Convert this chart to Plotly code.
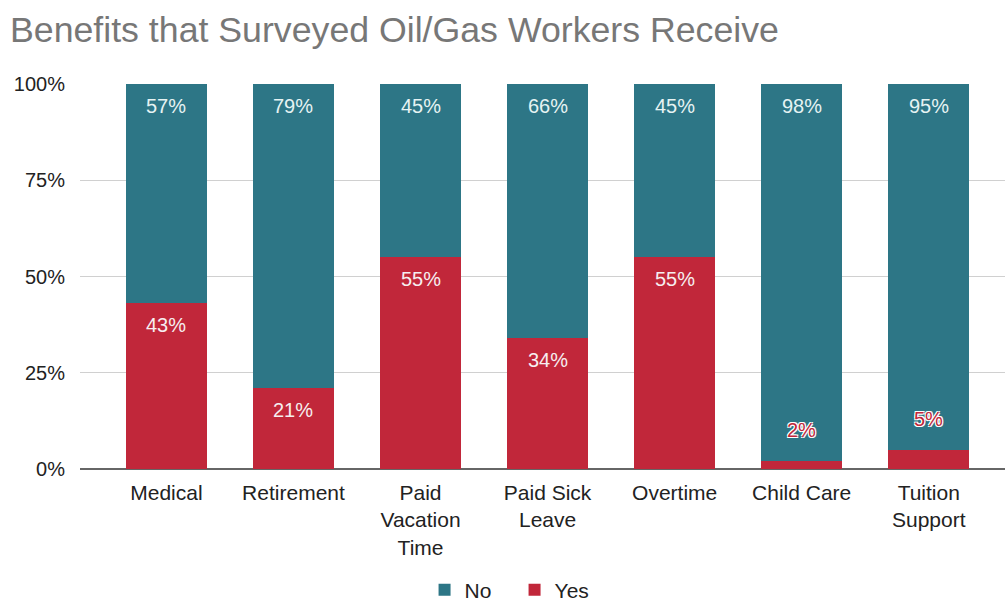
import plotly.graph_objects as go

categories = ["Medical", "Retirement", "Paid<br>Vacation<br>Time", "Paid Sick<br>Leave",
              "Overtime", "Child Care", "Tuition<br>Support"]
yes_vals = [43, 21, 55, 34, 55, 2, 5]
no_vals = [57, 79, 45, 66, 45, 98, 95]
small_threshold = 10

TEAL = "#2d7686"
RED = "#c1273a"
FONT = "Liberation Sans, Arial, sans-serif"

x_idx = list(range(len(categories)))

fig = go.Figure()
fig.add_trace(go.Bar(
    x=x_idx, y=yes_vals, name="Yes", marker=dict(color=RED, line=dict(width=0)),
    width=0.64, hoverinfo="y+name",
))
fig.add_trace(go.Bar(
    x=x_idx, y=no_vals, name="No", marker=dict(color=TEAL, line=dict(width=0)),
    width=0.64, hoverinfo="y+name",
))

outline = "1px 1px 0 white, -1px -1px 0 white, 1px -1px 0 white, -1px 1px 0 white"
for i, (y, n) in enumerate(zip(yes_vals, no_vals)):
    fig.add_annotation(x=i, y=y + n, text=f"{n}%", showarrow=False,
                       yanchor="top", yshift=-9,
                       font=dict(color="#e6f3f3", size=20, family=FONT))
    if y >= small_threshold:
        fig.add_annotation(x=i, y=y, text=f"{y}%", showarrow=False,
                           yanchor="top", yshift=-9,
                           font=dict(color="#f6eef0", size=20, family=FONT))
    else:
        fig.add_annotation(x=i, y=y, text=f"{y}%", showarrow=False,
                           yanchor="bottom", yshift=18,
                           font=dict(color=RED, size=20, family=FONT, shadow=outline))

fig.update_layout(
    barmode="stack",
    width=1005, height=603,
    paper_bgcolor="white", plot_bgcolor="white",
    margin=dict(l=80, r=0, t=84, b=134, autoexpand=False),
    font=dict(family=FONT, size=20, color="#222222"),
    title=dict(text="Benefits that Surveyed Oil/Gas Workers Receive",
               x=10/1005, xanchor="left", xref="container",
               y=1 - 30/603, yanchor="middle", yref="container",
               pad=dict(l=0, r=0, t=0, b=0),
               font=dict(size=35.7, color="#777777", family=FONT)),
    legend=dict(orientation="h", x=0.512, xref="container", xanchor="center",
                y=1 - 590/603, yref="container", yanchor="middle",
                traceorder="reversed", font=dict(size=21, color="#222222"),
                itemwidth=30, entrywidth=45),
    bargap=0.36,
)
fig.update_xaxes(
    tickmode="array", tickvals=x_idx, ticktext=categories,
    range=[-0.68, 6.6], showgrid=False, showline=False, zeroline=False,
    ticks="", ticklabelstandoff=9, tickfont=dict(size=21, color="#222222"),
)
fig.update_yaxes(
    range=[0, 100], tickvals=[0, 25, 50, 75, 100],
    ticktext=["0%", "25%", "50%", "75%", "100%"],
    showgrid=True, gridcolor="#d0d0d0", gridwidth=1,
    zeroline=True, zerolinecolor="#666666", zerolinewidth=2,
    ticks="", ticklabelstandoff=14, tickfont=dict(size=20, color="#222222"),
)

fig.write_html("out.html", config={"displayModeBar": False},
               post_script="document.body.style.margin='0';")
